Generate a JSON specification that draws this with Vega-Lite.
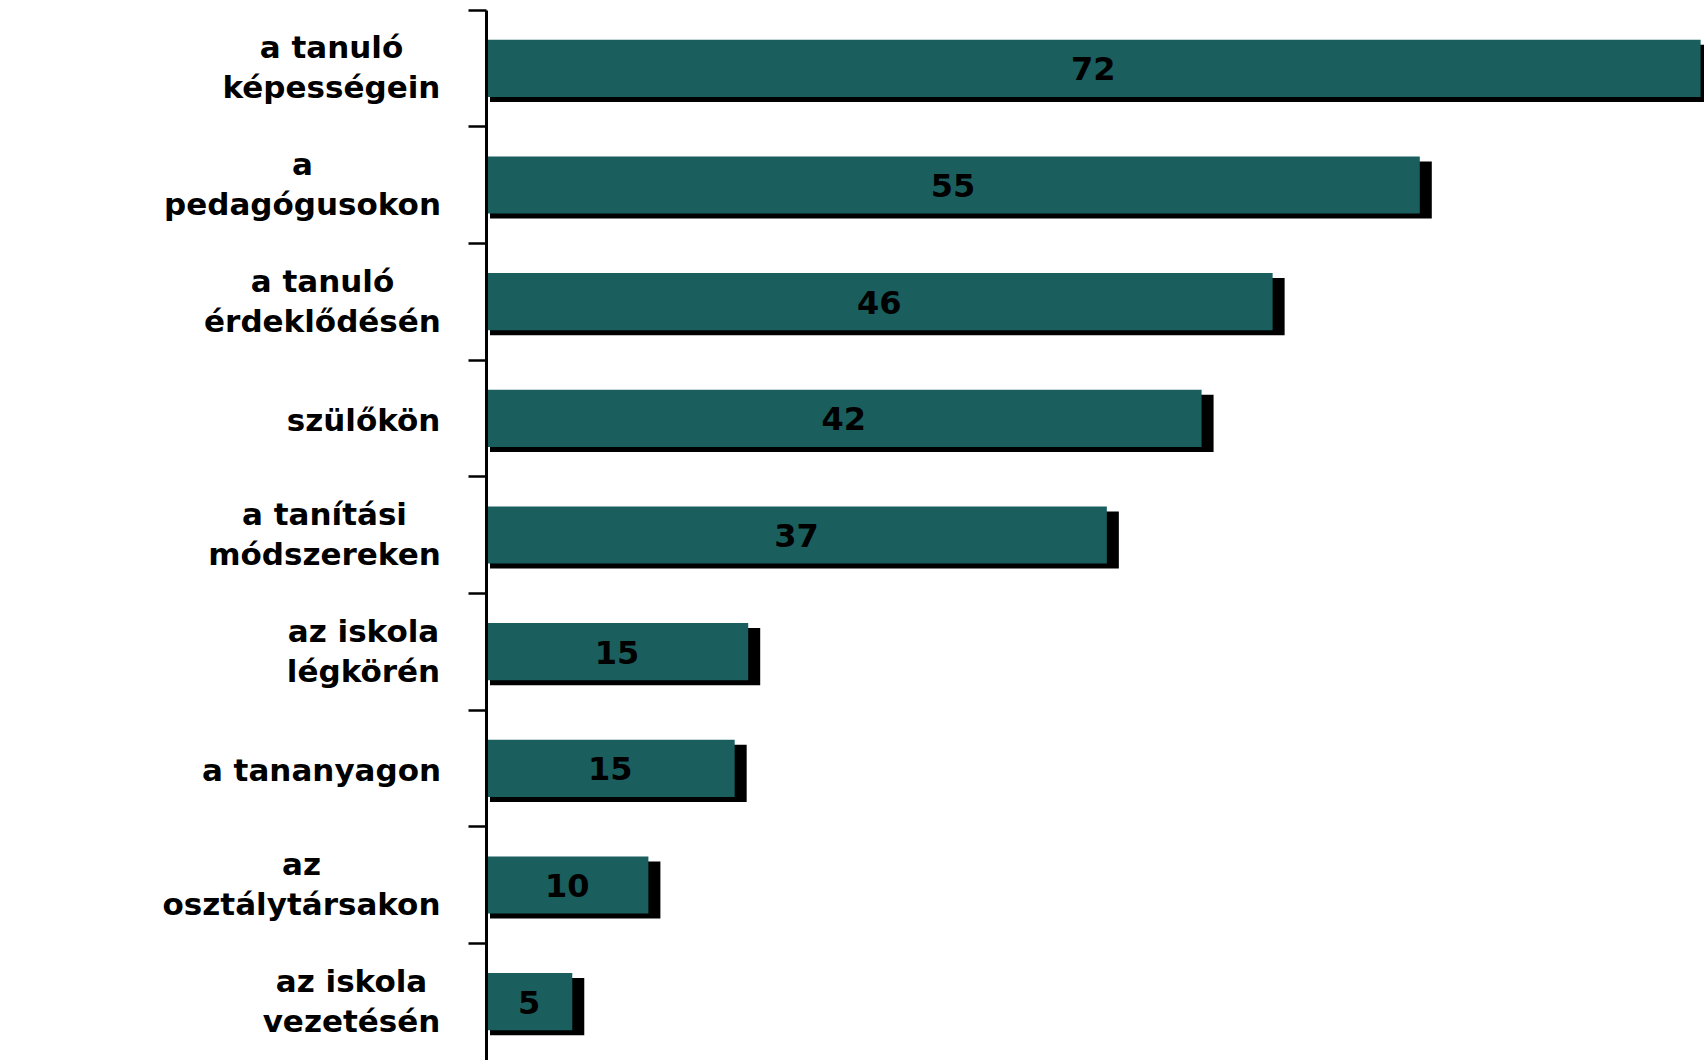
{
  "$schema": "https://vega.github.io/schema/vega-lite/v6.json",
  "autosize": "none",
  "width": 1218,
  "height": 1050,
  "padding": {"left": 486, "top": 10, "right": 0, "bottom": 0},
  "background": "white",
  "config": {"view": {"stroke": null}},
  "data": {
    "values": [
      {"cat": "a tanuló|képességein", "value": 71.8, "label": 72},
      {"cat": "a|pedagógusokon", "value": 55.2, "label": 55},
      {"cat": "a tanuló|érdeklődésén", "value": 46.5, "label": 46},
      {"cat": "szülőkön", "value": 42.3, "label": 42},
      {"cat": "a tanítási|módszereken", "value": 36.7, "label": 37},
      {"cat": "az iskola|légkörén", "value": 15.5, "label": 15},
      {"cat": "a tananyagon", "value": 14.7, "label": 15},
      {"cat": "az|osztálytársakon", "value": 9.6, "label": 10},
      {"cat": "az iskola|vezetésén", "value": 5.1, "label": 5}
    ]
  },
  "encoding": {
    "y": {
      "field": "cat",
      "type": "nominal",
      "sort": null,
      "scale": {"paddingInner": 0, "paddingOuter": 0},
      "axis": {
        "title": null,
        "labelExpr": "split(datum.label, '|')",
        "labelFont": "DejaVu Sans",
        "labelFontWeight": "bold",
        "labelFontSize": 31,
        "labelColor": "black",
        "labelLineHeight": 40,
        "labelLimit": 0,
        "labelAlign": "center",
        "labelPadding": {
          "condition": [
            {"test": "indexof(datum.value, 'képes') >= 0", "value": 137},
            {"test": "indexof(datum.value, 'pedag') >= 0", "value": 166},
            {"test": "indexof(datum.value, 'érdek') >= 0", "value": 146},
            {"test": "indexof(datum.value, 'szül') >= 0", "value": 105},
            {"test": "indexof(datum.value, 'módsz') >= 0", "value": 144},
            {"test": "indexof(datum.value, 'légk') >= 0", "value": 105},
            {"test": "indexof(datum.value, 'tananyag') >= 0", "value": 147},
            {"test": "indexof(datum.value, 'osztály') >= 0", "value": 167},
            {"test": "indexof(datum.value, 'vezet') >= 0", "value": 117}
          ],
          "value": 29
        },
        "labelOffset": {
          "condition": {"test": "indexof(datum.value, '|') >= 0", "value": -19},
          "value": 4
        },
        "tickSize": 18,
        "tickWidth": 2.5,
        "tickColor": "black",
        "bandPosition": 0,
        "domainColor": "black",
        "domainWidth": 3,
        "zindex": 1
      }
    }
  },
  "layer": [
    {
      "mark": {"type": "bar", "color": "black", "height": {"band": 0.49}, "xOffset": 12, "x2Offset": 4, "yOffset": 5, "y2Offset": 9},
      "encoding": {
        "x": {"field": "value", "type": "quantitative", "scale": {"domain": [0, 72], "nice": false, "zero": true}, "axis": null},
        "x2": {"datum": 0}
      }
    },
    {
      "mark": {"type": "bar", "color": "#1a5e5e", "height": {"band": 0.49}},
      "encoding": {
        "x": {"field": "value", "type": "quantitative"},
        "x2": {"datum": 0}
      }
    },
    {
      "transform": [{"calculate": "datum.value / 2", "as": "mid"}],
      "mark": {"type": "text", "font": "DejaVu Sans", "fontWeight": "bold", "fontSize": 32, "color": "black", "align": "center", "baseline": "middle", "dy": 2},
      "encoding": {
        "x": {"field": "mid", "type": "quantitative"},
        "text": {"field": "label", "type": "quantitative"}
      }
    }
  ]
}
